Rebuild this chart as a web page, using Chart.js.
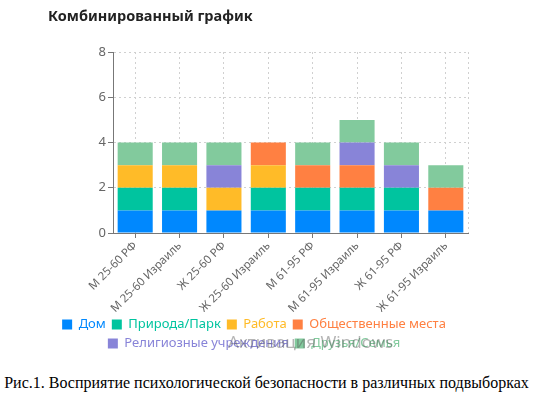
<!DOCTYPE html>
<html>
<head>
<meta charset="utf-8">
<script src="https://cdn.jsdelivr.net/npm/chart.js@4.4.1/dist/chart.umd.min.js"></script>
<style>
  body { margin: 0; background: #fff; width: 533px; height: 400px; position: relative; overflow: hidden; }
  #wrap { position: absolute; left: 0; top: 0; width: 533px; height: 368px; }
  #title { position: absolute; left: 48px; top: 5px; font: bold 14.5px 'Noto Sans', sans-serif; color: #222; }
  #watermark { position: absolute; left: 228px; top: 330px; font: 17px 'Noto Sans', sans-serif; color: rgba(90,90,90,0.45); }
  #caption { position: absolute; left: 0; top: 374px; width: 533px; text-align: center; font: 16px 'Liberation Serif', serif; color: #000; background: #fff; }
</style>
</head>
<body>
<div id="wrap"><canvas id="myChart"></canvas></div>
<div id="title">Комбинированный график</div>
<div id="watermark">Активация Windows</div>
<div id="caption">Рис.1. Восприятие психологической безопасности в различных подвыборках</div>
<script>
const categories = ['М 25-60 РФ', 'М 25-60 Израиль', 'Ж 25-60 РФ', 'Ж 25-60 Израиль',
  'М 61-95 РФ', 'М 61-95 Израиль', 'Ж 61-95 РФ', 'Ж 61-95 Израиль'];
const home = [1, 1, 1, 1, 1, 1, 1, 1];
const nature = [1, 1, 0, 1, 1, 1, 1, 0];
const work = [1, 1, 1, 1, 0, 0, 0, 0];
const publicPlaces = [0, 0, 0, 1, 1, 1, 0, 1];
const religious = [0, 0, 1, 0, 0, 1, 1, 0];
const friends = [1, 1, 1, 0, 1, 1, 1, 1];
const yTicks = [0, 2, 4, 6, 8];

const series = [
  { label: 'Дом', data: home, color: '#0088FE' },
  { label: 'Природа/Парк', data: nature, color: '#00C49F' },
  { label: 'Работа', data: work, color: '#FFBB28' },
  { label: 'Общественные места', data: publicPlaces, color: '#FF8042' },
  { label: 'Религиозные учреждения', data: religious, color: '#8884d8' },
  { label: 'Друзья/Семья', data: friends, color: '#82ca9d' },
];

// dotted right edge of the grid
const rightEdge = {
  id: 'rightEdge',
  beforeDatasetsDraw(chart) {
    const { ctx, chartArea } = chart;
    ctx.save();
    ctx.strokeStyle = '#d0d0d0';
    ctx.lineWidth = 1;
    ctx.setLineDash([2, 3]);
    ctx.beginPath();
    ctx.moveTo(chartArea.right + 0.5, chartArea.top);
    ctx.lineTo(chartArea.right + 0.5, chartArea.bottom);
    ctx.stroke();
    ctx.restore();
  },
};

const ctx = document.getElementById('myChart');
new Chart(ctx, {
  type: 'bar',
  data: {
    labels: categories,
    datasets: series.map((s) => ({
      label: s.label,
      data: s.data,
      backgroundColor: s.color,
      borderWidth: 0,
      barPercentage: 0.79,
      categoryPercentage: 1,
    })),
  },
  plugins: [rightEdge],
  options: {
    responsive: true,
    maintainAspectRatio: false,
    animation: false,
    layout: { padding: { left: 40, right: 65, top: 52, bottom: 8 } },
    plugins: {
      tooltip: { enabled: false },
      legend: {
        position: 'bottom',
        labels: {
          boxWidth: 10,
          boxHeight: 10,
          padding: 6,
          font: { family: "'Noto Sans', sans-serif", size: 13 },
          generateLabels: (chart) =>
            chart.data.datasets.map((ds, i) => ({
              text: ds.label,
              fillStyle: ds.backgroundColor,
              strokeStyle: ds.backgroundColor,
              lineWidth: 0,
              fontColor: ds.backgroundColor,
              datasetIndex: i,
            })),
        },
      },
    },
    scales: {
      x: {
        stacked: true,
        afterFit: (scale) => { scale.height = 79; },
        grid: { offset: false, color: '#d0d0d0', tickColor: '#777', tickLength: 5, tickBorderDash: [] },
        border: { display: true, color: '#777', dash: [2, 3] },
        ticks: {
          color: '#666',
          maxRotation: 45,
          minRotation: 45,
          padding: 1,
          font: { family: "'Noto Sans', sans-serif", size: 11.5 },
        },
      },
      y: {
        stacked: true,
        min: 0,
        max: 8,
        afterFit: (scale) => { scale.width = 73; },
        afterBuildTicks: (scale) => { scale.ticks = yTicks.map((v) => ({ value: v })); },
        grid: { color: '#d0d0d0', tickColor: '#777', tickLength: 5, tickBorderDash: [] },
        border: { display: true, color: '#777', dash: [2, 3] },
        ticks: {
          color: '#666',
          padding: 2,
          font: { family: "'Noto Sans', sans-serif", size: 13 },
        },
      },
    },
  },
});
</script>
</body>
</html>
